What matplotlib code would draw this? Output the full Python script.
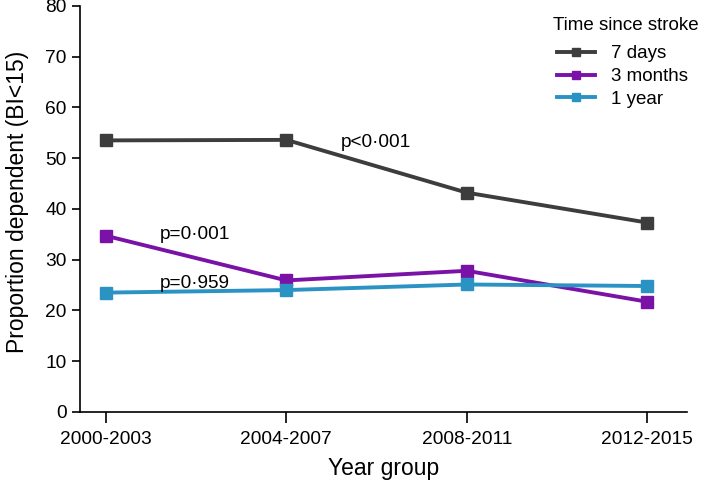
import matplotlib
matplotlib.use("Agg")
import matplotlib.pyplot as plt

plt.rcParams["font.family"] = ["Liberation Sans", "DejaVu Sans"]

# data
year_groups = ["2000-2003", "2004-2007", "2008-2011", "2012-2015"]
days7 = [53.5, 53.6, 43.2, 37.3]
months3 = [34.7, 25.9, 27.8, 21.7]
year1 = [23.5, 24.0, 25.1, 24.8]
series_names = ["7 days", "3 months", "1 year"]
colors = ["#3d3d3d", "#7a12a8", "#2b93c3"]
pvals = ["p<0·001", "p=0·001", "p=0·959"]

fig = plt.figure(figsize=(7.01, 4.95), dpi=100)
ax = fig.add_axes([0.114, 0.168, 0.866, 0.820])

x = list(range(len(year_groups)))
for vals, name, c in zip([days7, months3, year1], series_names, colors):
    ax.plot(x, vals, color=c, lw=2.8, marker="s", ms=8, label=name, zorder=3)

# p-value labels
ax.text(1.30, 53.0, pvals[0], fontsize=13.7, va="center", ha="left")
ax.text(0.30, 34.9, pvals[1], fontsize=13.7, va="center", ha="left")
ax.text(0.30, 25.2, pvals[2], fontsize=13.7, va="center", ha="left")

ax.set_xlim(-0.144, 3.22)
ax.set_ylim(0, 80)
ax.set_yticks(range(0, 81, 10))
ax.set_xticks(x)
ax.set_xticklabels(year_groups)
ax.spines["top"].set_visible(False)
ax.spines["right"].set_visible(False)
ax.spines["left"].set_linewidth(1.2)
ax.spines["bottom"].set_linewidth(1.2)
ax.tick_params(axis="y", labelsize=13.8, length=6, width=1.2)
ax.tick_params(axis="x", labelsize=13.8, length=8, width=1.2, pad=6)
ax.set_ylabel("Proportion dependent (BI<15)", fontsize=16.5)
ax.yaxis.set_label_coords(-0.084, 0.517)
ax.set_xlabel("Year group", fontsize=16.5, labelpad=6)

# legend title drawn separately so the gap matches
fig.text(553 / 701, 1 - 25 / 495, "Time since stroke", fontsize=13.5,
         va="center", ha="left")
ax.legend(loc="upper left", bbox_to_anchor=(557 / 701, 1 - 45 / 495),
          bbox_transform=fig.transFigure, frameon=False, fontsize=13.5,
          borderpad=0, borderaxespad=0, handlelength=2.03,
          handletextpad=0.85, labelspacing=0.31, markerscale=0.7)

fig.savefig("out.png", dpi=100)
